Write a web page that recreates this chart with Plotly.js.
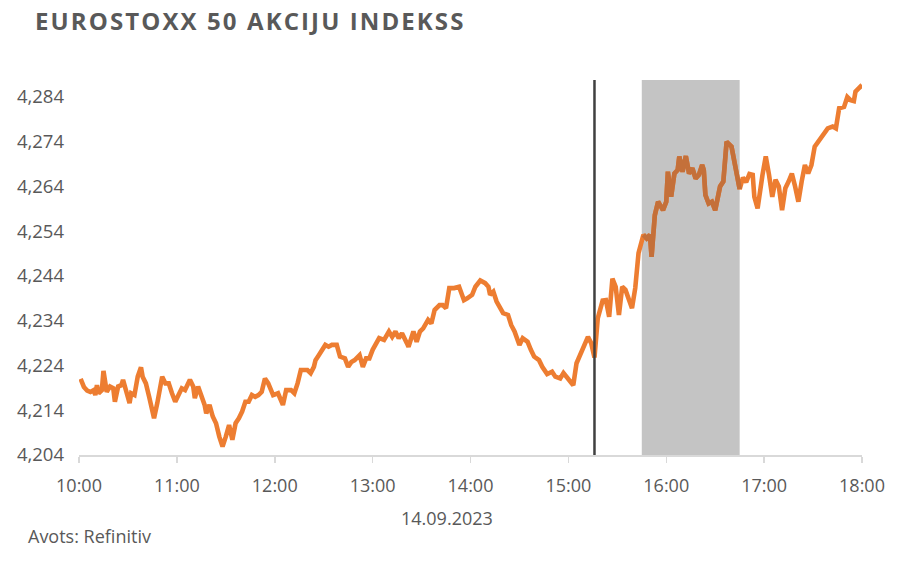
<!DOCTYPE html>
<html>
<head>
<meta charset="utf-8">
<script src="https://cdn.plot.ly/plotly-3.0.1.min.js"></script>
<style>
  html, body { margin: 0; padding: 0; background: #ffffff; }
  #chart { width: 904px; height: 562px; }
  .gtitle { letter-spacing: 2.1px; }
</style>
</head>
<body>
<div id="chart"></div>
<script>
const chartDate = "2023-09-14";
const times = ["10:01","10:03","10:05","10:07","10:09","10:10","10:11","10:12","10:14","10:15","10:17","10:19","10:21","10:22","10:24","10:26","10:27","10:29","10:31","10:32","10:34","10:36","10:38","10:39","10:41","10:43","10:46","10:48","10:50","10:51","10:53","10:55","10:57","10:59",
"11:01","11:03","11:05","11:07","11:08","11:10","11:11","11:13","11:15","11:17","11:18","11:20","11:22","11:24","11:26","11:28","11:30","11:32","11:34","11:36","11:38","11:40","11:42","11:44","11:46","11:48","11:50","11:52","11:54","11:56","11:59",
"12:02","12:05","12:07","12:10","12:12","12:14","12:16","12:20","12:22","12:24","12:25","12:27","12:29","12:31","12:33","12:35","12:38","12:40","12:43","12:45","12:47","12:49","12:52","12:54","12:56","12:58",
"13:00","13:02","13:04","13:07","13:10","13:12","13:14","13:16","13:18","13:21","13:22","13:25","13:27","13:29","13:31","13:34","13:36","13:38","13:41","13:43","13:45","13:47","13:50","13:53","13:56","13:58",
"14:01","14:03","14:06","14:09","14:11","14:12","14:14","14:16","14:18","14:20","14:23","14:25","14:27","14:30","14:32","14:35","14:37","14:39","14:42","14:44","14:47","14:50","14:52","14:55","14:57",
"15:00","15:03","15:05","15:08","15:10","15:12","15:14","15:16","15:18","15:21","15:23","15:25","15:27","15:29","15:31","15:33","15:35","15:37","15:39","15:41","15:43","15:46","15:48","15:50","15:51","15:53","15:55","15:58",
"16:00","16:01","16:03","16:05","16:07","16:08","16:10","16:12","16:14","16:16","16:18","16:20","16:22","16:23","16:24","16:26","16:28","16:30","16:33","16:35","16:37","16:40","16:41","16:43","16:45","16:47","16:49","16:51","16:53","16:54","16:56","16:59",
"17:01","17:03","17:05","17:07","17:09","17:11","17:13","17:15","17:17","17:19","17:21","17:23","17:25","17:27","17:29","17:31","17:33","17:35","17:37","17:39","17:42","17:44","17:46","17:49","17:51","17:53","17:55","17:56","17:59","18:00"];
const indexValues = [4221.0,4219.2,4218.4,4218.1,4218.5,4217.4,4219.6,4217.8,4218.5,4222.8,4218.1,4219.3,4218.9,4215.9,4219.3,4219.6,4220.8,4217.8,4215.6,4217.8,4217.4,4221.5,4223.6,4221.5,4220.0,4217.0,4212.2,4215.6,4218.9,4221.5,4220.0,4220.0,4217.8,4215.9,
4217.4,4218.9,4218.5,4220.0,4220.8,4219.3,4216.7,4219.3,4217.4,4215.2,4213.3,4215.2,4212.6,4211.1,4208.1,4205.9,4208.1,4210.7,4207.4,4211.1,4212.2,4213.7,4215.9,4215.9,4217.4,4217.0,4217.4,4218.1,4221.1,4220.0,4217.4,
4217.8,4215.2,4218.5,4218.5,4217.8,4220.0,4223.0,4223.0,4222.3,4223.7,4225.2,4226.3,4227.5,4228.6,4228.2,4228.6,4228.6,4226.0,4225.6,4223.7,4224.8,4225.2,4226.3,4223.7,4225.6,4225.6,
4227.5,4228.6,4230.1,4229.7,4231.6,4230.4,4231.6,4230.1,4231.2,4229.0,4228.2,4231.6,4229.3,4231.6,4232.3,4234.2,4233.4,4236.4,4237.5,4237.5,4236.8,4241.3,4241.3,4241.6,4238.6,4239.0,
4239.8,4241.6,4243.0,4242.4,4241.6,4239.8,4240.5,4238.3,4237.1,4235.7,4235.3,4233.0,4231.6,4228.6,4230.1,4229.3,4227.5,4226.0,4225.2,4223.7,4222.1,4222.6,4221.5,4221.1,4222.3,
4221.1,4219.6,4224.5,4227.1,4228.2,4230.4,4229.0,4225.8,4234.5,4238.5,4238.6,4234.9,4243.4,4241.6,4235.3,4241.6,4240.9,4239.0,4236.8,4241.3,4249.1,4253.2,4252.4,4253.2,4248.3,4257.6,4260.6,4258.7,
4260.6,4267.3,4261.7,4266.9,4267.7,4270.7,4267.3,4270.8,4266.9,4268.1,4265.8,4266.6,4268.8,4267.7,4262.1,4260.2,4260.6,4258.7,4264.0,4265.1,4274.0,4272.9,4270.7,4267.7,4263.4,4266.0,4265.0,4266.8,4266.6,4261.7,4259.1,4266.6,
4270.7,4266.6,4261.7,4265.5,4264.0,4258.7,4263.6,4265.1,4266.9,4264.0,4260.6,4265.1,4268.8,4266.9,4268.8,4272.9,4274.0,4275.1,4276.2,4277.0,4277.4,4277.0,4281.5,4281.8,4284.0,4283.3,4283.1,4285.2,4286.3,4285.9];
const hourTicks = ["10:00","11:00","12:00","13:00","14:00","15:00","16:00","17:00","18:00"];
const yTicks = [4204,4214,4224,4234,4244,4254,4264,4274,4284];
const eventTime = "15:16";
const bandStart = "15:45";
const bandEnd = "16:45";
const titleText = "EUROSTOXX 50 AKCIJU INDEKSS";
const dateLabel = "14.09.2023";
const sourceText = "Avots: Refinitiv";

const ts = t => chartDate + " " + t;
const font = "Open Sans, DejaVu Sans, sans-serif";
const grey = "#595959";

// points falling inside the shaded band (drawn darker, as if seen through the grey band)
const bandIdx = times.map((t, i) => (t >= bandStart && t <= bandEnd) ? i : -1).filter(i => i >= 0);

const mainTrace = {
  x: times.map(ts), y: indexValues,
  type: "scatter", mode: "lines",
  line: { color: "#ED7D31", width: 4.6 },
  hoverinfo: "skip"
};
const bandTrace = {
  x: bandIdx.map(i => ts(times[i])), y: bandIdx.map(i => indexValues[i]),
  type: "scatter", mode: "lines",
  line: { color: "#C4703A", width: 4.6 },
  hoverinfo: "skip"
};

const layout = {
  width: 904, height: 562,
  margin: { l: 79, r: 42, t: 80, b: 107 },
  paper_bgcolor: "#ffffff", plot_bgcolor: "#ffffff",
  showlegend: false,
  title: {
    text: "<b>" + titleText + "</b>",
    x: 35 / 904, xanchor: "left", xref: "container",
    y: 1 - 22 / 562, yanchor: "middle", yref: "container",
    font: { family: font, size: 24, color: grey }
  },
  xaxis: {
    type: "date",
    range: [ts(hourTicks[0]), ts(hourTicks[hourTicks.length - 1])],
    tickvals: hourTicks.map(ts),
    ticktext: hourTicks,
    showgrid: false, zeroline: false,
    showline: true, linecolor: "#d9d9d9", linewidth: 1.5,
    ticks: "outside", ticklen: 6, tickcolor: "#d9d9d9", tickwidth: 1.5,
    ticklabelstandoff: 8,
    tickfont: { family: font, size: 18, color: grey },
    fixedrange: true
  },
  yaxis: {
    range: [4204, 4287.8],
    tickvals: yTicks,
    tickformat: ",d",
    showgrid: false, zeroline: false, showline: false,
    ticks: "", ticklabelstandoff: 14,
    tickfont: { family: font, size: 18.5, color: grey },
    fixedrange: true
  },
  shapes: [
    {
      type: "rect", xref: "x", yref: "paper",
      x0: ts(bandStart), x1: ts(bandEnd), y0: 0, y1: 1,
      fillcolor: "#c4c4c4", line: { width: 0 }, layer: "below"
    },
    {
      type: "line", xref: "x", yref: "paper",
      x0: ts(eventTime), x1: ts(eventTime), y0: 0, y1: 1,
      line: { color: "#404040", width: 2.5 }, layer: "above"
    }
  ],
  annotations: [
    {
      text: dateLabel, xref: "paper", yref: "paper",
      x: (447 - 79) / 783, y: (455 - 518) / 375,
      xanchor: "center", yanchor: "middle", showarrow: false,
      font: { family: font, size: 18, color: grey }
    },
    {
      text: sourceText, xref: "paper", yref: "paper",
      x: (26 - 79) / 783, y: (455 - 536) / 375,
      xanchor: "left", yanchor: "middle", showarrow: false,
      font: { family: font, size: 18, color: grey }
    }
  ]
};

Plotly.newPlot("chart", [mainTrace, bandTrace], layout, { displayModeBar: false, staticPlot: true });
</script>
</body>
</html>
